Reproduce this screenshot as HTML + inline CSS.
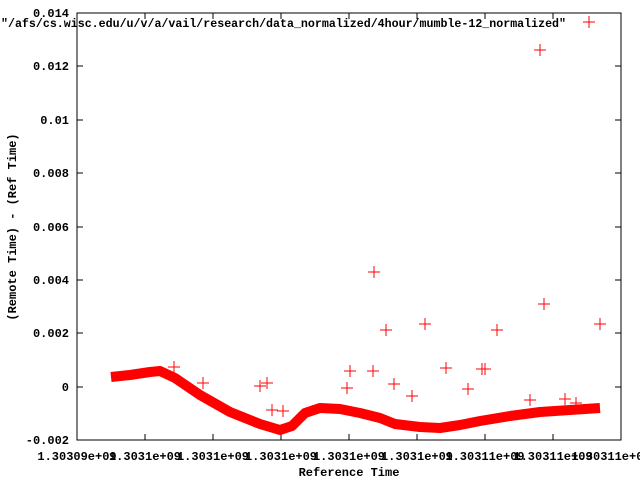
<!DOCTYPE html><html><head><style>body{margin:0;background:#fff}svg text{font-family:"Liberation Mono",monospace;font-size:12px;font-weight:bold;fill:#000}</style></head><body>
<svg width="640" height="480" xmlns="http://www.w3.org/2000/svg">
<rect x="77" y="13" width="544" height="427" fill="none" stroke="#000"/>
<g stroke="#000">
<path d="M77 13h6M77 66h6M77 120h6M77 173h6M77 227h6M77 280h6M77 333h6M77 387h6M77 440h6M621 13h-6M621 66h-6M621 120h-6M621 173h-6M621 227h-6M621 280h-6M621 333h-6M621 387h-6M621 440h-6"/>
<path d="M145 440v-6M213 440v-6M281 440v-6M349 440v-6M417 440v-6M485 440v-6M553 440v-6M145 13v6M213 13v6M281 13v6M349 13v6M417 13v6M485 13v6M553 13v6"/>
</g>
<g text-anchor="end">
<text x="69" y="17">0.014</text><text x="69" y="70">0.012</text><text x="69" y="124">0.01</text><text x="69" y="177">0.008</text><text x="69" y="231">0.006</text><text x="69" y="284">0.004</text><text x="69" y="337">0.002</text><text x="69" y="391">0</text><text x="69" y="444">-0.002</text>
</g>
<g text-anchor="middle">
<text x="77" y="460">1.30309e+09</text><text x="145" y="460">1.3031e+09</text><text x="213" y="460">1.3031e+09</text><text x="281" y="460">1.3031e+09</text><text x="349" y="460">1.3031e+09</text><text x="417" y="460">1.3031e+09</text><text x="485" y="460">1.30311e+09</text><text x="553" y="460">1.30311e+09</text><text x="611" y="460">1.30311e+09</text>
<text x="349" y="476">Reference Time</text>
<text transform="translate(16,227) rotate(-90)">(Remote Time) - (Ref Time)</text>
</g>
<text x="1" y="27" textLength="565" lengthAdjust="spacingAndGlyphs">"/afs/cs.wisc.edu/u/v/a/vail/research/data_normalized/4hour/mumble-12_normalized"</text>
<polyline fill="none" stroke="#f00" stroke-width="10" stroke-linejoin="round" points="111,377 130,375 150,372 160,371 175,378 200,395 230,412 260,424 280,430 292,426 305,413 320,408 340,409 360,413 380,418 395,424 420,427 440,428 460,425 480,421 510,416 540,412 570,410 600,408"/>
<path stroke="#f00" stroke-width="1" d="M589 16v12M583 22h12M540 44v12M534 50h12M374 266v12M368 272h12M386 324v12M380 330h12M425 318v12M419 324h12M544 298v12M538 304h12M600 318v12M594 324h12M497 324v12M491 330h12M446 362v12M440 368h12M350 365v12M344 371h12M373 365v12M367 371h12M485 363v12M479 369h12M482 363v12M476 369h12M394 378v12M388 384h12M412 390v12M406 396h12M468 383v12M462 389h12M260 380v12M254 386h12M267 377v12M261 383h12M347 382v12M341 388h12M203 377v12M197 383h12M174 361v12M168 367h12M530 394v12M524 400h12M565 393v12M559 399h12M576 397v12M570 403h12M272 404v12M266 410h12M283 405v12M277 411h12"/>
</svg></body></html>
